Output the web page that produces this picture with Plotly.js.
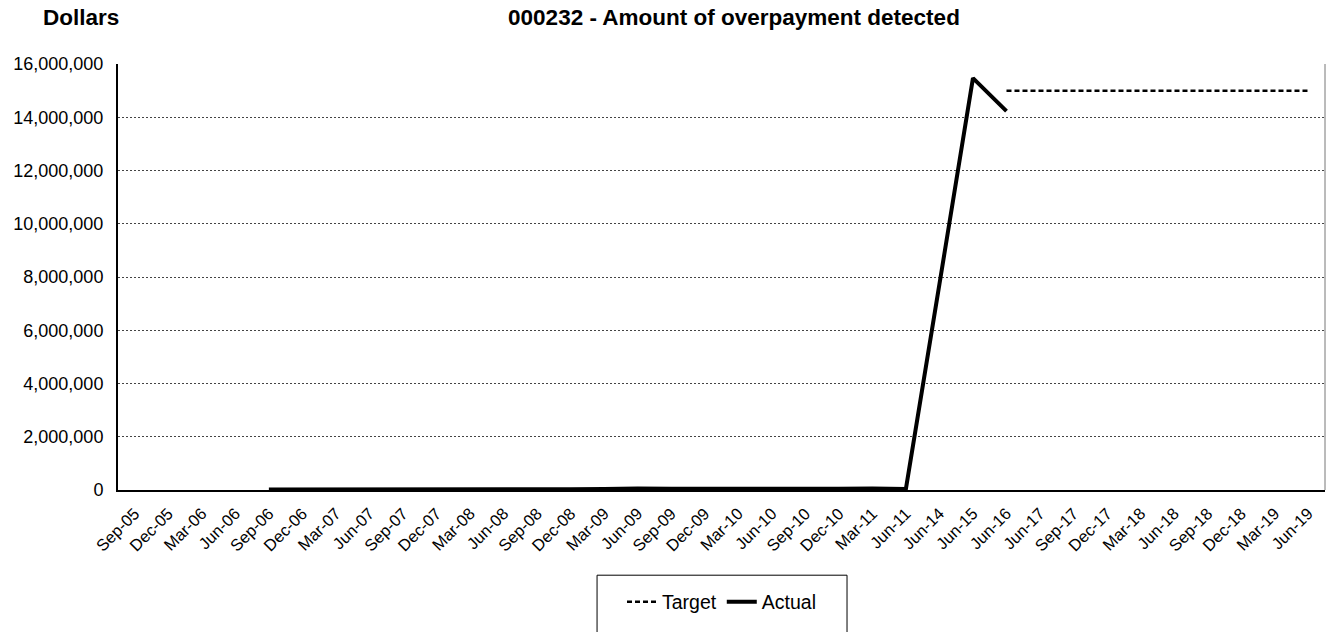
<!DOCTYPE html>
<html>
<head>
<meta charset="utf-8">
<script src="https://cdn.plot.ly/plotly-3.0.1.min.js"></script>
<style>html,body{margin:0;padding:0;background:#fff;}#chart{width:1335px;height:632px;}</style>
</head>
<body>
<div id="chart"></div>
<script>
var categories = ["Sep-05","Dec-05","Mar-06","Jun-06","Sep-06","Dec-06","Mar-07","Jun-07","Sep-07","Dec-07","Mar-08","Jun-08","Sep-08","Dec-08","Mar-09","Jun-09","Sep-09","Dec-09","Mar-10","Jun-10","Sep-10","Dec-10","Mar-11","Jun-11","Jun-14","Jun-15","Jun-16","Jun-17","Sep-17","Dec-17","Mar-18","Jun-18","Sep-18","Dec-18","Mar-19","Jun-19"];
var targetValues = [null,null,null,null,null,null,null,null,null,null,null,null,null,null,null,null,null,null,null,null,null,null,null,null,null,null,15000000,15000000,15000000,15000000,15000000,15000000,15000000,15000000,15000000,15000000];
var actualValues = [null,null,null,null,20000,25000,25000,20000,25000,25000,20000,25000,25000,30000,35000,60000,45000,40000,55000,50000,55000,50000,55000,40000,7730000,15470000,14230000,null,null,null,null,null,null,null,null,null];
var yTickVals = [0,2000000,4000000,6000000,8000000,10000000,12000000,14000000,16000000];
var yTickText = ["0","2,000,000","4,000,000","6,000,000","8,000,000","10,000,000","12,000,000","14,000,000","16,000,000"];

var font = "Liberation Sans, Arial, sans-serif";
var traces = [
  {x: categories, y: targetValues, name: "Target", type: "scatter", mode: "lines",
   line: {color: "#000", width: 2.5, dash: "5px,3px"}, connectgaps: false},
  {x: categories, y: actualValues, name: "Actual", type: "scatter", mode: "lines",
   line: {color: "#000", width: 4}, connectgaps: false}
];
var layout = {
  width: 1335, height: 632,
  margin: {l: 118, r: 10, t: 64, b: 138},
  paper_bgcolor: "#fff", plot_bgcolor: "#fff",
  font: {family: font, color: "#000", size: 18},
  showlegend: true,
  title: {text: "<b>000232 - Amount of overpayment detected</b>", font: {family: font, size: 22.5, color: "#000"},
    xref: "container", yref: "container", x: 0.5498, xanchor: "center", y: 0.973, yanchor: "middle"},
  xaxis: {type: "category", categoryorder: "array", categoryarray: categories,
    tickangle: -45, tickfont: {family: font, size: 16.5, color: "#000"}, ticklabelstandoff: 6,
    showgrid: false, showline: true, linecolor: "#000", linewidth: 1.5,
    ticks: "", zeroline: false, range: [-0.5, 35.5], fixedrange: true},
  yaxis: {range: [0, 16000000], tickvals: yTickVals, ticktext: yTickText,
    tickfont: {family: font, size: 18, color: "#000"}, ticklabelstandoff: 9,
    showgrid: true, gridcolor: "#444", griddash: "2px,2px", gridwidth: 1,
    showline: true, linecolor: "#000", linewidth: 2, ticks: "", ticklen: 0,
    zeroline: false, fixedrange: true},
  legend: {orientation: "h", x: 0.5, xanchor: "center", y: -0.263, yanchor: "middle",
    borderwidth: 0, bgcolor: "rgba(0,0,0,0)",
    font: {family: font, size: 19.5, color: "#000"}, traceorder: "normal"},
  annotations: [
    {text: "<b>Dollars</b>", xref: "paper", yref: "paper", x: -0.0307, y: 1.109, xanchor: "center", yanchor: "middle",
     showarrow: false, font: {family: font, size: 22.5, color: "#000"}}
  ],
  shapes: [
    {type: "line", xref: "paper", yref: "paper", x0: 1, x1: 1, y0: 0, y1: 1, line: {color: "#777", width: 1}},
    {type: "rect", xref: "paper", yref: "paper", x0: 0.3969, x1: 0.6040, y0: -0.2, y1: -0.4, line: {color: "#000", width: 1}, fillcolor: "rgba(0,0,0,0)", layer: "below"}
  ]
};
Plotly.newPlot("chart", traces, layout, {displayModeBar: false, staticPlot: true});
</script>
</body>
</html>
